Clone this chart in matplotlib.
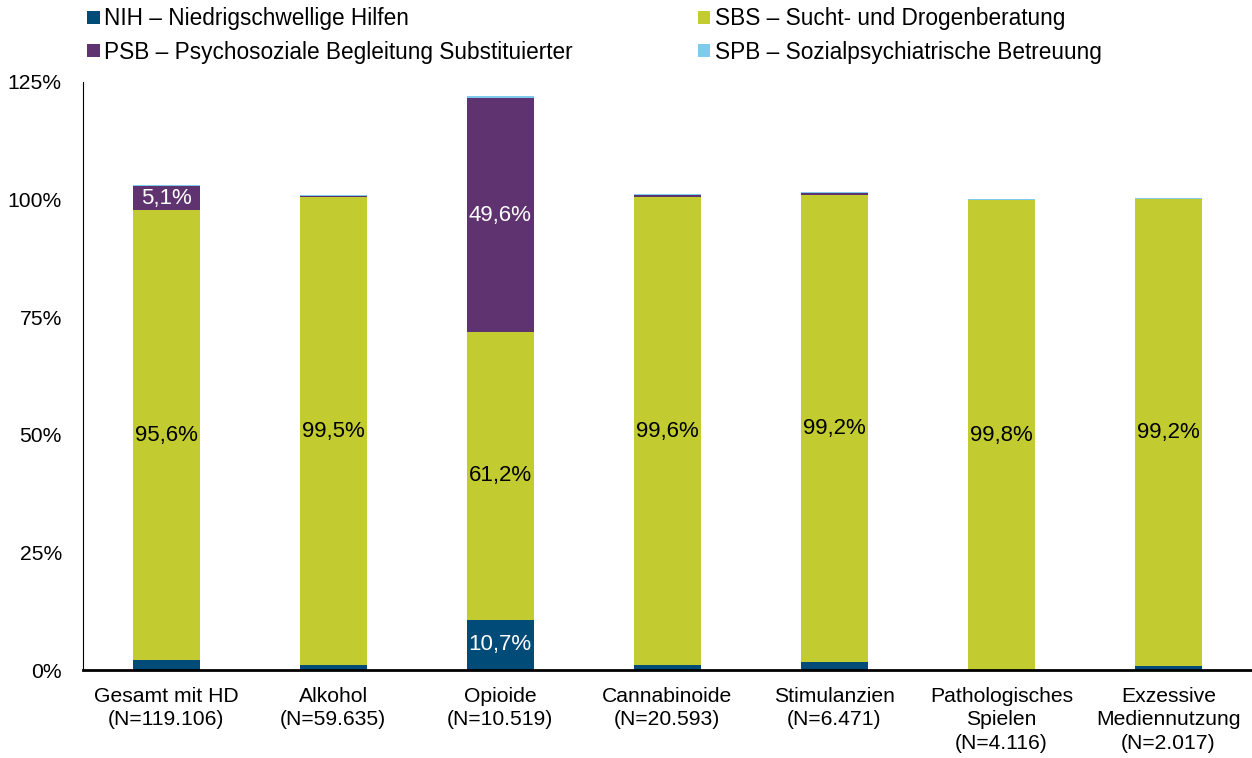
import matplotlib.pyplot as plt
import numpy as np

plt.rcParams['font.family'] = ['Liberation Sans', 'DejaVu Sans']

categories = ['Gesamt mit HD\n(N=119.106)', 'Alkohol\n(N=59.635)', 'Opioide\n(N=10.519)',
              'Cannabinoide\n(N=20.593)', 'Stimulanzien\n(N=6.471)',
              'Pathologisches\nSpielen\n(N=4.116)', 'Exzessive\nMediennutzung\n(N=2.017)']
nih = [2.1, 1.0, 10.7, 1.0, 1.7, 0.0, 0.9]
sbs = [95.6, 99.5, 61.2, 99.6, 99.2, 99.8, 99.2]
psb = [5.1, 0.2, 49.6, 0.3, 0.4, 0.2, 0.0]
spb = [0.3, 0.2, 0.5, 0.2, 0.3, 0.1, 0.2]

series = [
    ('NIH – Niedrigschwellige Hilfen', nih, '#004b78'),
    ('SBS – Sucht- und Drogenberatung', sbs, '#c2cc30'),
    ('PSB – Psychosoziale Begleitung Substituierter', psb, '#5f3270'),
    ('SPB – Sozialpsychiatrische Betreuung', spb, '#7fcbeb'),
]

fig = plt.figure(figsize=(12.52, 7.58), dpi=100)
ax = fig.add_axes([0.066, 0.116, 0.934, 0.776])

x = np.arange(len(categories))
bottom = np.zeros(len(categories))
bars = {}
for name, vals, col in series:
    vals = np.array(vals)
    bars[name] = ax.bar(x, vals, 0.4, bottom=bottom, color=col, label=name)
    for i, v in enumerate(vals):
        show = False
        if name.startswith('SBS'):
            show, tc = True, 'black'
        elif name.startswith('NIH') and v > 5:
            show, tc = True, 'white'
        elif name.startswith('PSB') and v > 5:
            show, tc = True, 'white'
        if show:
            ax.text(x[i], bottom[i] + v / 2, f'{v:.1f}%'.replace('.', ','),
                    ha='center', va='center', color=tc, fontsize=16)
    bottom += vals

ax.set_xlim(-0.5, 6.5)
ax.set_ylim(0, 125)
ax.set_yticks([0, 25, 50, 75, 100, 125])
ax.set_yticklabels(['0%', '25%', '50%', '75%', '100%', '125%'])
ax.set_xticks(x)
ax.set_xticklabels(categories, linespacing=1.3)
ax.tick_params(axis='both', length=0, labelsize=15.2)
ax.tick_params(axis='y', pad=15)
ax.tick_params(axis='x', pad=12)
ax.spines['top'].set_visible(False)
ax.spines['right'].set_visible(False)
ax.spines['bottom'].set_linewidth(2)

order = ['NIH – Niedrigschwellige Hilfen', 'PSB – Psychosoziale Begleitung Substituierter',
         'SBS – Sucht- und Drogenberatung', 'SPB – Sozialpsychiatrische Betreuung']
fig.legend([bars[n] for n in order], order, ncol=2, loc='upper left',
           bbox_to_anchor=(0.0536, 1.017), frameon=False, fontsize=16.3,
           handlelength=0.55, handleheight=0.55, handletextpad=0.2,
           columnspacing=5.5, labelspacing=0.45)

fig.savefig('out.png', dpi=100)
